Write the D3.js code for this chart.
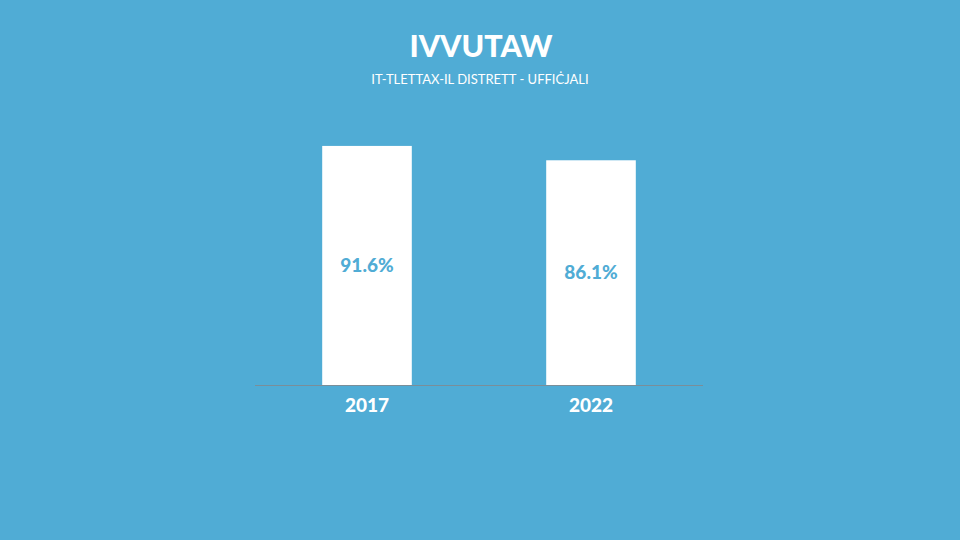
<!DOCTYPE html>
<html><head><meta charset="utf-8">
<script src="https://cdn.jsdelivr.net/npm/d3@7"></script>
<style>html,body{margin:0;padding:0;background:#50acd5;}svg{display:block;}</style>
</head><body>
<svg width="960" height="540"></svg>
<script>
const categories = ["2017", "2022"];
const values = [91.6, 86.1];
const valueLabels = ["91.6%", "86.1%"];
const title = "IVVUTAW";
const subtitle = "IT-TLETTAX-IL DISTRETT - UFFIĊJALI";

const bg = "#50acd5";
const svg = d3.select("svg");
svg.append("rect").attr("width",960).attr("height",540).attr("fill",bg);

const font = "Lato, 'Open Sans', sans-serif";
svg.append("text").attr("x",481).attr("y",57).attr("text-anchor","middle")
  .attr("font-family",font).attr("font-weight","900").attr("font-size",30.5)
  .attr("fill","#fff").text(title);
svg.append("text").attr("x",480).attr("y",84).attr("text-anchor","middle")
  .attr("font-family",font).attr("font-size",13).attr("fill","#fff").text(subtitle);

const x = d3.scaleBand().domain(categories).range([255,703]).paddingInner(0.6).paddingOuter(0.3);
const y = d3.scaleLinear().domain([0,100]).range([385,124]);

svg.selectAll("rect.bar").data(values).join("rect").attr("class","bar")
  .attr("x",(d,i)=>x(categories[i])).attr("width",x.bandwidth())
  .attr("y",d=>y(d)).attr("height",d=>y(0)-y(d)).attr("fill","#fff");

svg.selectAll("text.val").data(values).join("text").attr("class","val")
  .attr("x",(d,i)=>x(categories[i])+x.bandwidth()/2)
  .attr("y",d=>(y(d)+y(0))/2).attr("dy","0.35em").attr("text-anchor","middle")
  .attr("font-family",font).attr("font-weight","900").attr("font-size",19)
  .attr("fill",bg).text((d,i)=>valueLabels[i]);

const axis = svg.append("g").attr("transform","translate(0,385)")
  .call(d3.axisBottom(x).tickSize(0).tickPadding(14));
axis.select(".domain").attr("stroke","#7a8e99").attr("stroke-width",1)
  .attr("d","M255,0.5H703");
axis.selectAll("text").attr("font-family",font).attr("font-weight","900")
  .attr("font-size",19).attr("fill","#fff");
</script>
</body></html>
